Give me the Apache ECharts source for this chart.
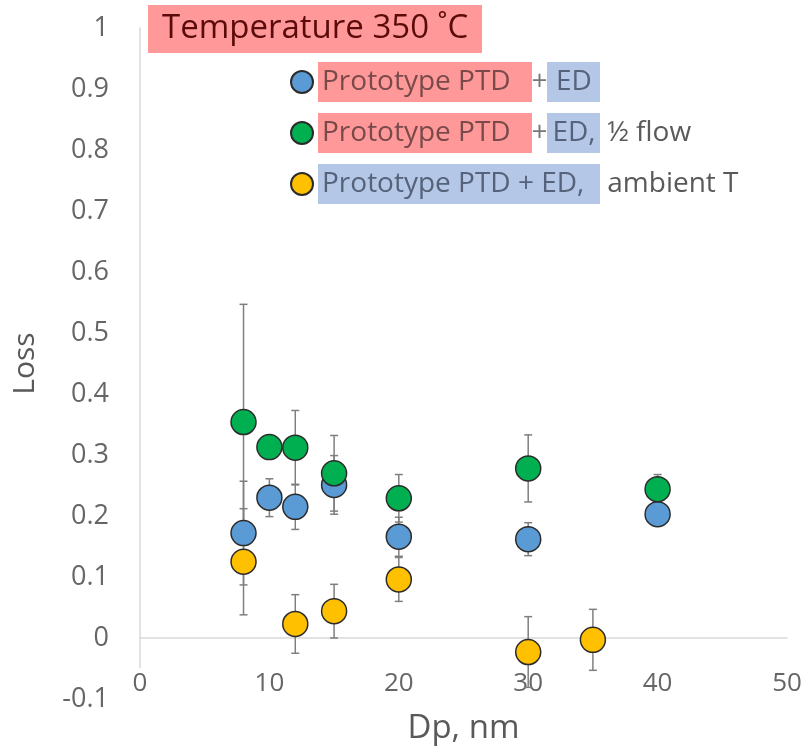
<!DOCTYPE html>
<html>
<head>
<meta charset="utf-8">
<script src="https://cdn.jsdelivr.net/npm/echarts@6/dist/echarts.min.js"></script>
<style>html,body{margin:0;padding:0;background:#fff}#c{width:807px;height:750px}</style>
</head>
<body>
<div id="c"></div>
<script>
// ---- data ----
const seriesNames = ['Prototype PTD + ED', 'Prototype PTD + ED, \u00bd flow', 'Prototype PTD + ED, ambient T'];
const edX   = [8, 10, 12, 15, 20, 30, 40];
const edY   = [0.172, 0.230, 0.215, 0.251, 0.166, 0.162, 0.203];
const edErr = [0.085, 0.031, 0.037, 0.048, 0.032, 0.027, 0.010];
const halfX   = [8, 10, 12, 15, 20, 30, 40];
const halfY   = [0.354, 0.313, 0.312, 0.270, 0.229, 0.278, 0.244];
const halfErr = [0.193, 0.010, 0.061, 0.062, 0.039, 0.055, 0.024];
const ambX   = [8, 12, 15, 20, 30, 35];
const ambY   = [0.125, 0.023, 0.044, 0.096, -0.023, -0.003];
const ambErr = [0.087, 0.048, 0.044, 0.036, 0.058, 0.050];
const titleText = 'Temperature 350 \u02daC';
const xName = 'Dp, nm';
const yName = 'Loss';

// ---- chart ----
const FONT = '"Open Sans", Lato, sans-serif';
const colors = ['#5b9bd5', '#00b050', '#ffc000'];
const groups = [[edX, edY, edErr], [halfX, halfY, halfErr], [ambX, ambY, ambErr]];

function pts(g) { return g[0].map((x, i) => [x, g[1][i]]); }
function errs(g) { return g[0].map((x, i) => [x, g[1][i], g[2][i]]); }

function errRender(params, api) {
  const x = api.value(0), y = api.value(1), e = api.value(2);
  const t = api.coord([x, y + e]);
  const b = api.coord([x, y - e]);
  const w = 4;
  const st = { stroke: '#7f7f7f', lineWidth: 1.5 };
  return {
    type: 'group',
    children: [
      { type: 'line', shape: { x1: t[0], y1: t[1], x2: b[0], y2: b[1] }, style: st },
      { type: 'line', shape: { x1: t[0] - w, y1: t[1], x2: t[0] + w, y2: t[1] }, style: st },
      { type: 'line', shape: { x1: b[0] - w, y1: b[1], x2: b[0] + w, y2: b[1] }, style: st }
    ]
  };
}

const series = [];
groups.forEach((g, i) => {
  series.push({
    type: 'custom', name: seriesNames[i] + ' err', renderItem: errRender,
    data: errs(g), z: 1, silent: true, xAxisIndex: 0, yAxisIndex: 0
  });
});
groups.forEach((g, i) => {
  series.push({
    type: 'scatter', name: seriesNames[i], data: pts(g), symbolSize: 25, z: 3 + i,
    xAxisIndex: 0, yAxisIndex: 0,
    itemStyle: { color: colors[i], borderColor: '#2b2b2b', borderWidth: 1.5, opacity: 1 }
  });
});

const labelColor = '#666666';
const LF = 28;
const rich = {
  r: { backgroundColor: '#ff9999', width: 210, height: 40, padding: [0, 0, 0, 4], fontSize: LF, color: '#7a4a4a', fontFamily: FONT, fontWeight: 'normal' },
  p: { width: 15, align: 'center', fontSize: LF, color: '#777', fontFamily: FONT },
  b: { backgroundColor: '#b4c7e7', width: 52, height: 40, padding: [0, 0, 0, 1], fontSize: LF, color: '#55627a', fontFamily: FONT },
  b3: { backgroundColor: '#b4c7e7', width: 278, height: 40, padding: [0, 0, 0, 4], fontSize: LF, color: '#55627a', fontFamily: FONT },
  n: { fontSize: LF, color: '#595959', fontFamily: FONT }
};

const chart = echarts.init(document.getElementById('c'), null, { renderer: 'canvas' });
chart.setOption({
  backgroundColor: '#ffffff',
  animation: false,
  textStyle: { fontFamily: FONT },
  title: {
    text: '{t|' + titleText + '}', left: 148, top: 5, padding: 0,
    textStyle: { fontWeight: 'normal', rich: { t: { backgroundColor: '#ff9999', width: 320, height: 48, padding: [0, 0, 0, 14], fontSize: 33, fontWeight: 'normal', color: '#5a0a0a', fontFamily: FONT } } }
  },
  legend: {
    orient: 'vertical', left: 290, top: 62, itemGap: 11, itemWidth: 22, itemHeight: 22,
    icon: 'circle', data: seriesNames, padding: 0,
    formatter: function (name) {
      if (name === seriesNames[0]) return '{r|Prototype PTD}{p|+}{b|ED}';
      if (name === seriesNames[1]) return '{r|Prototype PTD}{p|+}{b|ED,}{n| \u00bd flow}';
      return '{b3|Prototype PTD + ED,}{n| ambient T}';
    },
    textStyle: { rich: rich, fontSize: LF }
  },
  grid: { left: 140, right: 20, top: 28, bottom: 49, containLabel: false },
  xAxis: [
    {
      type: 'value', min: 0, max: 50, interval: 10, position: 'bottom',
      axisLine: { show: true, onZero: true, lineStyle: { color: '#d9d9d9', width: 1.5 } },
      axisTick: { show: false }, axisLabel: { show: false }, splitLine: { show: false }
    },
    {
      type: 'value', min: 0, max: 50, interval: 10, position: 'bottom',
      axisLine: { show: false, onZero: false }, axisTick: { show: false }, splitLine: { show: false },
      axisLabel: { show: true, fontSize: 26, color: labelColor, fontFamily: FONT, margin: -31, backgroundColor: '#ffffff', padding: [3, 2, 6, 2] },
      name: xName, nameLocation: 'middle', nameGap: 13,
      nameTextStyle: { fontSize: 33, color: '#595959', fontFamily: FONT, verticalAlign: 'top' }
    }
  ],
  yAxis: {
    type: 'value', min: -0.1, max: 1, interval: 0.1,
    axisLine: { show: true, onZero: false, lineStyle: { color: '#d9d9d9', width: 1.5 } },
    axisTick: { show: false }, splitLine: { show: false },
    axisLabel: { fontSize: 27, color: labelColor, fontFamily: FONT, margin: 31,
      formatter: v => String(Math.round(v * 10) / 10) },
    name: yName, nameLocation: 'middle', nameGap: 100,
    nameTextStyle: { fontSize: 30, color: '#595959', fontFamily: FONT }
  },
  series: series
});
</script>
</body>
</html>
